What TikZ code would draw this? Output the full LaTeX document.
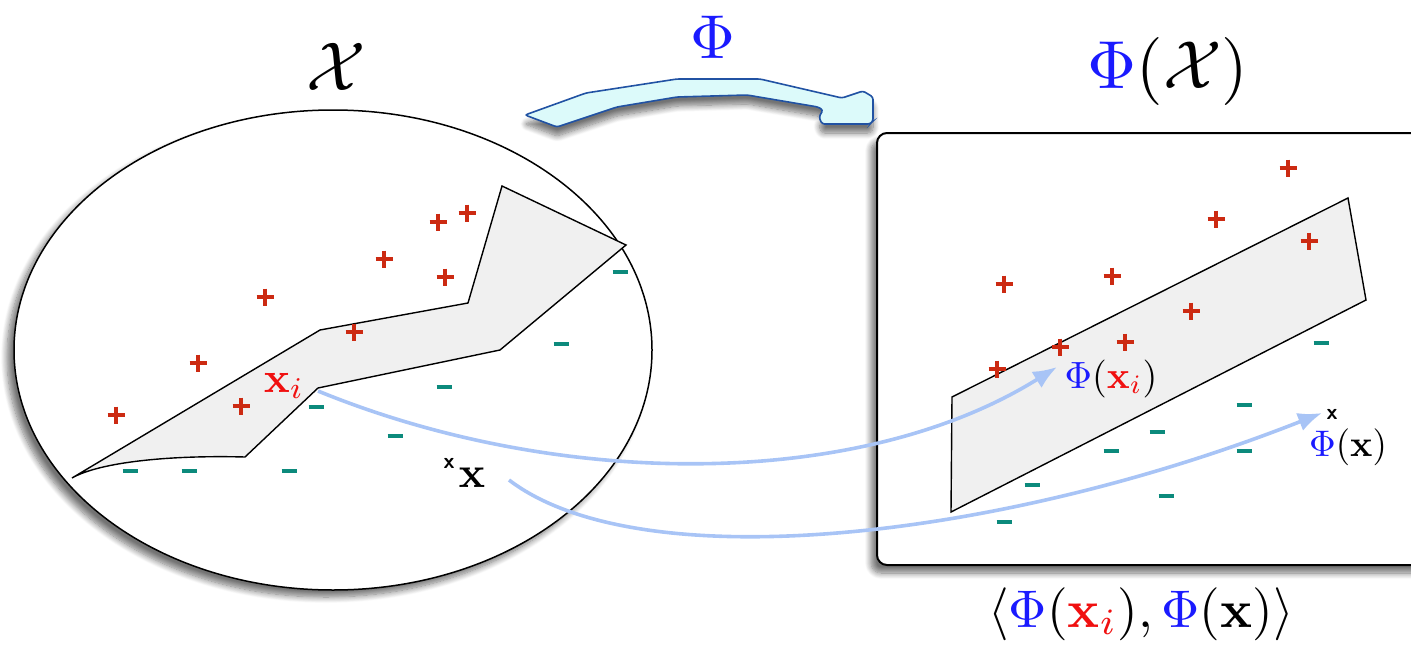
\documentclass[tikz,border=0pt]{standalone}
\usepackage{amsmath}
\usetikzlibrary{shapes.geometric,arrows.meta,shadows.blur}
\definecolor{plusred}{HTML}{CC2A12}
\definecolor{minteal}{HTML}{0C8A7C}
\definecolor{arrblue}{HTML}{A8C4F6}
\definecolor{phiblue}{HTML}{1A1AFF}
\definecolor{xred}{HTML}{F01010}
\definecolor{bigfill}{HTML}{DCFAFA}
\definecolor{bigdraw}{HTML}{2152A3}
\definecolor{regfill}{HTML}{F0F0F0}
\newcommand{\Phb}{{\color{phiblue}\Phi}}
\newcommand{\xr}{{\color{xred}\mathbf{x}_i}}
\tikzset{
  plusmark/.pic={\draw[plusred,line width=3.6pt] (-8.5,0) -- (8.5,0) (0,-8.5) -- (0,8.5);},
  minusmark/.pic={\draw[minteal,line width=3.2pt] (-7.5,0) -- (7.5,0);},
  region/.style={draw=black,line width=1.4pt,fill=regfill,line join=miter},
  maparrow/.style={arrblue,line width=3.6pt,-{Latex[length=24pt,width=19pt]}},
  lbl/.style={inner sep=0pt},
  tinyx/.style={inner sep=0pt,font=\sffamily\bfseries,scale=2.2},
}
\begin{document}
\begin{tikzpicture}[x=1pt,y=-1pt]
\useasboundingbox (0,0) rectangle (1411,645);
% input space ellipse
\node[ellipse,draw,line width=1.5pt,fill=white,minimum width=638pt,minimum height=480pt,
  blur shadow={shadow xshift=-7pt,shadow yshift=-7pt,shadow blur steps=10,shadow blur radius=6pt,shadow opacity=55}] (space) at (333,350) {};
% feature space box
\draw[line width=2pt,rounded corners=10pt,fill=white,
  blur shadow={shadow xshift=-6pt,shadow yshift=-8pt,shadow blur steps=10,shadow blur radius=6pt,shadow opacity=55}]
  (877,133) rectangle (1430,565);
\coordinate (box) at (877,133);
% left region
\draw[region] (72,478) -- (320,330) -- (468,303) -- (502,186) -- (626,245) -- (500,350)
  -- (318,388) -- (245,457) .. controls (170,455) and (100,462) .. (72,478) -- cycle;
% right region
\draw[region] (952,397) -- (1348,198) -- (1366,300) -- (951,512) -- cycle;
% big Phi arrow
\draw[fill=bigfill,draw=bigdraw,line width=1.6pt,rounded corners=2.5pt,
  blur shadow={shadow xshift=0pt,shadow yshift=-9pt,shadow blur steps=10,shadow blur radius=6pt,shadow opacity=55}]
  (525,115) -- (586,93) -- (677,79) -- (760,79) -- (842,98) -- (863,91) -- (873,97)
  -- (873,121) -- (870,124) -- (822,124) -- (819,117) -- (823,110) -- (818,107)
  -- (747,95) -- (677,97) -- (617,107) -- (557,127) -- cycle;
% plus signs left
\foreach \p in {(116,415),(198,363),(241,406),(265,297),(354,332),(384,259),(438,222),(467,213),(445,277)}
  \pic at \p {plusmark};
% plus signs right
\foreach \p in {(1288,168),(1216,219),(1309,241),(1004,284),(1112,276),(1191,311),(1125,342),(1060,347),(997,369)}
  \pic at \p {plusmark};
% minus signs left
\foreach \p in {(620,272),(561,344),(444,387),(316,407),(395,436),(130,471),(189,471),(289,471)}
  \pic at \p {minusmark};
% minus signs right
\foreach \p in {(1321,343),(1244,405),(1157,432),(1111,451),(1244,451),(1032,485),(1166,496),(1004,522)}
  \pic at \p {minusmark};
% titles
\node[lbl,anchor=base,scale=6.9] (X) at (336,90) {$\mathcal{X}$};
\node[lbl,anchor=base,scale=6.2] (Phi) at (713,58) {$\Phb$};
\node[lbl,anchor=base,scale=6.8] (PhiX) at (1168,88) {$\Phb(\mathcal{X})$};
\node[lbl,anchor=base,scale=5.3] (kern) at (1141,627) {$\langle \Phb(\xr),\Phb(\mathbf{x})\rangle$};
% points
\node[lbl,anchor=base west,scale=4.3] (xi) at (263,392) {$\xr$};
\coordinate (xistart) at (318,391);
\node[tinyx] (xmark) at (449,463) {x};
\node[lbl,scale=4.4,anchor=base] (x) at (472,487) {$\mathbf{x}$};
\coordinate (xstart) at (509,480);
\node[lbl,anchor=base,scale=3.8] (phixi) at (1111,388) {$\Phb(\xr)$};
\coordinate (phixitip) at (1057,367);
\node[tinyx] (pxmark) at (1332,414) {x};
\node[lbl,anchor=base,scale=3.7] (phix) at (1348,456) {$\Phb(\mathbf{x})$};
\coordinate (phixtip) at (1322,413);
% mapping arrows
\draw[maparrow] (xistart) .. controls (560,490) and (860,490) .. (phixitip);
\draw[maparrow] (xstart) .. controls (640,580) and (1000,540) .. (phixtip);
\end{tikzpicture}
\end{document}
